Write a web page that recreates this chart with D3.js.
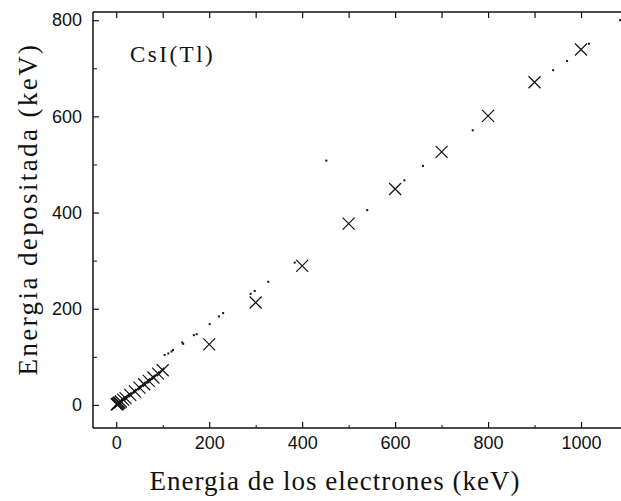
<!DOCTYPE html>
<html><head><meta charset="utf-8">
<script src="https://cdn.jsdelivr.net/npm/d3@7/dist/d3.min.js"></script>
<style>body{margin:0;background:#fff}svg{display:block}</style>
</head><body><svg id="c" width="621" height="501"></svg>
<script>
// Measured data (crosses)
const crossEnergy = [1, 2, 3, 5, 7, 10, 15, 20, 30, 40, 50, 60, 70, 80, 90, 100, 200, 300, 400, 500, 600, 700, 800, 900, 1000];
const crossDeposit = [1, 1.5, 2, 4, 5, 7, 11, 14, 21, 28, 36, 43, 50, 57, 65, 72, 126, 213, 289, 377, 449, 526, 601, 671, 739];
// Small dots series
const dotEnergy = [104, 112, 119, 122, 142, 144, 167, 173, 201, 221, 230, 289, 298, 327, 384, 452, 540, 620, 660, 767, 940, 970, 1017, 1084];
const dotDeposit = [104, 107, 111, 114, 130, 127, 145, 147, 168, 184, 191, 231, 237, 256, 296, 508, 405, 467, 497, 571, 696, 715, 751, 800];
const xTicks = [0, 200, 400, 600, 800, 1000];
const xMinor = [100, 300, 500, 700, 900];
const yTicks = [0, 200, 400, 600, 800];
const yMinor = [100, 300, 500, 700];
const xTitle = "Energia de los electrones (keV)";
const yTitle = "Energia depositada (keV)";
const label = "CsI(Tl)";

const svg = d3.select("#c");
const L = 93, R = 621, T = 12, B = 428;
const x = d3.scaleLinear().domain([-50, 1086]).range([L, R]);
const y = d3.scaleLinear().domain([-48, 817]).range([B, T]);
const ink = "#111";
const sans = "Liberation Sans, Arial, sans-serif";
const serif = "Liberation Serif, Times New Roman, serif";

// frame
svg.append("line").attr("x1", L).attr("x2", R).attr("y1", B).attr("y2", B).attr("stroke", ink).attr("stroke-width", 1.5);
svg.append("line").attr("x1", L).attr("x2", R).attr("y1", T).attr("y2", T).attr("stroke", ink).attr("stroke-width", 1.5);
svg.append("line").attr("x1", L).attr("x2", L).attr("y1", T).attr("y2", B).attr("stroke", ink).attr("stroke-width", 1.5);

// bottom axis
const xb = d3.axisBottom(x).tickValues(xTicks).tickSize(-6).tickPadding(8).tickFormat(d3.format("d"));
const gx = svg.append("g").attr("transform", `translate(0,${B})`).call(xb);
gx.select(".domain").remove();
gx.selectAll(".tick line").attr("stroke", ink).attr("stroke-width", 1.2);
gx.selectAll(".tick text").attr("font-family", sans).attr("font-size", 18).attr("fill", ink);
const gxm = svg.append("g").attr("transform", `translate(0,${B})`).call(d3.axisBottom(x).tickValues(xMinor).tickSize(-3).tickFormat(""));
gxm.select(".domain").remove();
gxm.selectAll(".tick line").attr("stroke", ink);

// top axis
const gt = svg.append("g").attr("transform", `translate(0,${T})`).call(d3.axisTop(x).tickValues(xTicks.concat(xMinor)).tickSize(-6).tickFormat(""));
gt.select(".domain").remove();
gt.selectAll(".tick line").attr("stroke", ink).attr("stroke-width", 1.2);

// left axis
const gy = svg.append("g").attr("transform", `translate(${L},0)`).call(d3.axisLeft(y).tickValues(yTicks).tickSize(-6).tickPadding(11).tickFormat(d3.format("d")));
gy.select(".domain").remove();
gy.selectAll(".tick line").attr("stroke", ink).attr("stroke-width", 1.2);
gy.selectAll(".tick text").attr("font-family", sans).attr("font-size", 18).attr("fill", ink);
const gym = svg.append("g").attr("transform", `translate(${L},0)`).call(d3.axisLeft(y).tickValues(yMinor).tickSize(-4).tickFormat(""));
gym.select(".domain").remove();
gym.selectAll(".tick line").attr("stroke", ink);

// dots
const dots = dotEnergy.map((e, i) => [e, dotDeposit[i]]);
svg.append("g").selectAll("rect").data(dots).join("rect")
  .attr("x", d => x(d[0]) - 1).attr("y", d => y(d[1]) - 1).attr("width", 2).attr("height", 2).attr("fill", ink);

// crosses
const crosses = crossEnergy.map((e, i) => [e, crossDeposit[i]]);
const s = 6;
svg.append("g").selectAll("path").data(crosses).join("path")
  .attr("d", d => { const cx = x(d[0]), cy = y(d[1]); return `M${cx - s},${cy - s}L${cx + s},${cy + s}M${cx - s},${cy + s}L${cx + s},${cy - s}`; })
  .attr("stroke", ink).attr("stroke-width", 1.2).attr("fill", "none");

// titles
svg.append("text").attr("x", 335).attr("y", 490).attr("text-anchor", "middle")
  .attr("font-family", serif).attr("font-size", 27).attr("letter-spacing", 1).attr("fill", ink).text(xTitle);
svg.append("text").attr("transform", "translate(37,209) rotate(-90)").attr("text-anchor", "middle")
  .attr("font-family", serif).attr("font-size", 27).attr("letter-spacing", 2.4).attr("fill", ink).text(yTitle);
svg.append("text").attr("x", 130).attr("y", 62)
  .attr("font-family", serif).attr("font-size", 23).attr("letter-spacing", 2.5).attr("fill", ink).text(label);
</script></body></html>
